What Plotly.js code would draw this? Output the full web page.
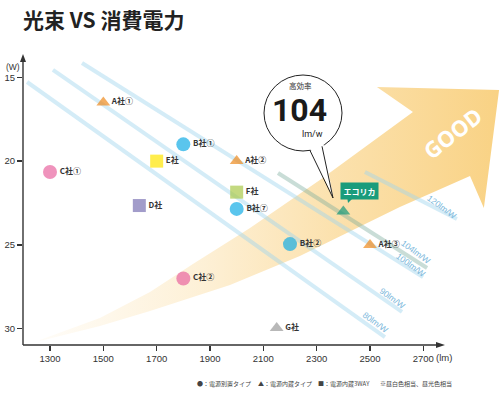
<!DOCTYPE html>
<html><head><meta charset="utf-8">
<script src="https://cdn.plot.ly/plotly-3.0.1.min.js"></script>
<style>html,body{margin:0;padding:0;background:#fff}#chart{width:500px;height:399px}</style>
</head><body><div id="chart"></div>
<script>
// ---- data ----
const companyNames = ['A社①','B社①','E社','C社①','A社②','F社','B社⑦','D社','C社②','B社②','A社③','G社','エコリカ'];
const lumens       = [1500, 1800, 1700, 1300, 2000, 2000, 2000, 1635, 1800, 2200, 2500, 2150, 2400];
const watts        = [16.5, 19.0, 20.0, 20.65, 20.0, 21.85, 22.85, 22.65, 27.0, 24.95, 25.0, 29.95, 23.0];

const effLabels  = ['80lm/W','90lm/W','100lm/W','104lm/W','120lm/W'];
const effStartLm = [1214, 1311, 1420, 2155, 2481];
const effStartW  = [15.28, 14.56, 14.15, 20.71, 20.65];
const effEndLm   = [2556, 2620, 2699, 2714, 2826];
const effEndW    = [30.50, 29.00, 26.92, 26.38, 23.45];

const xTickVals = [1300,1500,1700,1900,2100,2300,2500,2700];
const yTickVals = [15,20,25,30];

const goodArrowLm = [1262,1487,1675,1836,2050,2312,2661,2526,2984,2927,2875,2612,2237,1975,1675,1487,1262];
const goodArrowW  = [30.67,29.36,27.81,26.14,23.99,21.13,17.07,15.58,15.76,22.80,20.89,22.74,25.66,27.39,28.94,29.84,30.73];

const legendItems = ['●：電源別置タイプ','▲：電源内蔵タイプ','■：電源内蔵3WAY','※昼白色相当、昼光色相当'];

// ---- styles ----
const styleByCompany = {
  'A社': {symbol:'triangle-up', color:'#EE8A1E', size:12},
  'B社': {symbol:'circle', color:'#14ADE5', size:14},
  'C社': {symbol:'circle', color:'#E8659F', size:14},
  'D社': {symbol:'square', color:'#7A72B4', size:13},
  'E社': {symbol:'square', color:'#FFE600', size:13},
  'F社': {symbol:'square', color:'#A9C94A', size:13},
  'G社': {symbol:'triangle-up', color:'#9A9A9A', size:12},
  'エコリカ': {symbol:'triangle-up', color:'#16997A', size:12}
};
const styleOf = n => styleByCompany[n.startsWith('エコリカ') ? 'エコリカ' : n.slice(0,2)];

const L=23, T=52, R=0, B=54, FW=500, FH=399;
const W=FW-L-R, H=FH-T-B;
const px = x => (x-L)/W;
const py = y => (T+H-y)/H;
const XR=[1198.75, 2987.5], YR=[30.97, 13.49];

const FONT_JP = '"Noto Sans CJK JP", "Noto Sans", sans-serif';
const FONT_NUM = '"Liberation Sans", Arial, sans-serif';

const traces = [];
traces.push({
  x: goodArrowLm, y: goodArrowW, mode:'lines', line:{width:0, color:'rgba(0,0,0,0)'},
  fill:'toself',
  fillgradient:{type:'horizontal', start:1262, stop:2984,
    colorscale:[[0,'rgba(250,213,140,0.06)'],[0.35,'rgba(250,213,140,0.35)'],[0.65,'rgba(250,213,140,0.72)'],[1,'rgba(249,210,132,1)']]},
  hoverinfo:'skip', showlegend:false
});
effLabels.forEach((lab,i)=>{
  traces.push({
    x:[effStartLm[i], effEndLm[i]], y:[effStartW[i], effEndW[i]], mode:'lines',
    line:{width:4, color: lab.startsWith('104') ? 'rgba(120,170,155,0.4)' : 'rgba(160,212,238,0.45)'},
    hoverinfo:'skip', showlegend:false
  });
});
traces.push({
  x: lumens, y: watts, mode:'markers+text',
  text: companyNames.map(n => n==='エコリカ' ? '' : n),
  textposition:'middle right',
  textfont:{family:FONT_JP, size:8, color:'#333', weight:'bold'},
  marker:{symbol: companyNames.map(n=>styleOf(n).symbol), color: companyNames.map(n=>styleOf(n).color),
          size: companyNames.map(n=>styleOf(n).size), line:{width:0}},
  cliponaxis:false, hoverinfo:'skip', showlegend:false
});

const ann = [];
const note = (x, y, text, font, extra) => ann.push(Object.assign({x:px(x), y:py(y), xref:'paper', yref:'paper',
  xanchor:'center', yanchor:'middle', text:text, showarrow:false, font:font}, extra||{}));

note(13, 67, '(W)', {family:FONT_NUM, size:8.5, color:'#333'});
note(444, 357, '(lm)', {family:FONT_NUM, size:9.5, color:'#333'});
// efficiency labels
const effLabelPos = [[375,322],[392,298],[411,265],[416,252],[442,207]];
effLabels.forEach((lab,i)=> note(effLabelPos[i][0], effLabelPos[i][1], lab,
  {family:FONT_NUM, size:8.5, color:'rgb(125,185,220)'}, {textangle:36}));
// GOOD
note(452, 133, 'GOOD', {family:'"Noto Sans", sans-serif', size:22, color:'#fff', weight:'bold'}, {textangle:-38});
// bubble texts
note(300, 85, '高効率', {family:FONT_JP, size:7.5, color:'#333'});
note(299, 110, '104', {family:'Roboto, sans-serif', size:32, color:'#1a1a1a', weight:'bold'});
note(312, 134, 'lm/w', {family:'Roboto, sans-serif', size:9, color:'#222'});
// Ecorica callout
note(359, 191, 'エコリカ', {family:FONT_JP, size:8, color:'#fff', weight:'bold'}, {bgcolor:'#1A9C7C', borderpad:2.5});
// legend line
const legendX = [195, 256, 316, 378];
legendItems.forEach((t,i)=> note(legendX[i], 383, t, {family:FONT_JP, size:6, color:'#444'}, {xanchor:'left'}));

const P = (x,y)=>`${px(x)},${py(y)}`;
const AX = '#333';
const shapes = [
  // axes with arrowheads
  {type:'line', xref:'paper', yref:'paper', x0:px(23), y0:py(345), x1:px(438), y1:py(345), line:{color:AX, width:1.4}},
  {type:'path', xref:'paper', yref:'paper', path:`M${P(436,342)} L${P(445,345)} L${P(436,348)} Z`, fillcolor:AX, line:{width:0}},
  {type:'line', xref:'paper', yref:'paper', x0:px(23), y0:py(345), x1:px(23), y1:py(60), line:{color:AX, width:1.4}},
  {type:'path', xref:'paper', yref:'paper', path:`M${P(20,62)} L${P(23,54)} L${P(26,62)} Z`, fillcolor:AX, line:{width:0}},
  // bubble
  {type:'circle', xref:'paper', yref:'paper', x0:px(264), x1:px(342), y0:py(151), y1:py(75),
   fillcolor:'#fff', line:{color:'#222', width:1}},
  {type:'path', xref:'paper', yref:'paper', path:`M${P(309,146)} L${P(323,141)} L${P(333,197)} Z`, fillcolor:'#fff', line:{width:0}},
  {type:'line', xref:'paper', yref:'paper', x0:px(310), y0:py(150.5), x1:px(333), y1:py(198), line:{color:'#222', width:1}},
  {type:'line', xref:'paper', yref:'paper', x0:px(322), y0:py(146.3), x1:px(333), y1:py(198), line:{color:'#222', width:1}},
  {type:'path', xref:'paper', yref:'paper', path:`M${P(347,196)} L${P(355,196)} L${P(348,203)} Z`, fillcolor:'#1A9C7C', line:{width:0}}
];

const layout = {
  width:FW, height:FH, margin:{l:L, r:R, t:T, b:B},
  paper_bgcolor:'#fff', plot_bgcolor:'rgba(0,0,0,0)',
  title:{text:'光束 VS 消費電力', x:px(23), xref:'paper', xanchor:'left', y:1-21/FH, yref:'container', yanchor:'middle',
    font:{family:FONT_JP, size:21, color:'#222', weight:'bold'}},
  xaxis:{range:XR, tickvals:xTickVals, ticks:'outside', ticklen:5, tickwidth:1.3, tickcolor:'#333',
    showline:false, showgrid:false, zeroline:false, fixedrange:true,
    tickfont:{family:FONT_NUM, size:9.5, color:'#333'}},
  yaxis:{range:YR, tickvals:yTickVals, ticks:'outside', ticklen:5, tickwidth:1.3, tickcolor:'#333',
    showline:false, showgrid:false, zeroline:false, fixedrange:true,
    tickfont:{family:FONT_NUM, size:9.5, color:'#333'}},
  annotations:ann, shapes:shapes, showlegend:false
};
Plotly.newPlot('chart', traces, layout, {displayModeBar:false, staticPlot:true});
</script></body></html>
